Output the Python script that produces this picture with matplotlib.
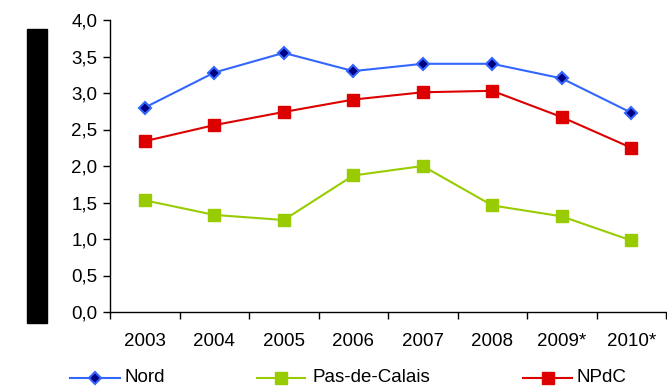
import matplotlib
matplotlib.use("Agg")
import matplotlib.pyplot as plt
from matplotlib.patches import Rectangle
from matplotlib.lines import Line2D
from matplotlib.ticker import FixedLocator, NullFormatter

plt.rcParams['font.family'] = ['Liberation Sans', 'DejaVu Sans']

years = ["2003", "2004", "2005", "2006", "2007", "2008", "2009*", "2010*"]
nord = [2.80, 3.28, 3.55, 3.30, 3.40, 3.40, 3.20, 2.73]
pas_de_calais = [1.53, 1.33, 1.26, 1.87, 2.00, 1.46, 1.31, 0.98]
npdc = [2.34, 2.56, 2.74, 2.91, 3.01, 3.03, 2.67, 2.25]
y_ticks = [0.0, 0.5, 1.0, 1.5, 2.0, 2.5, 3.0, 3.5, 4.0]

W, H = 667, 388
FS = 13.5
fig = plt.figure(figsize=(W / 100, H / 100), dpi=100)
ax = fig.add_axes([110 / W, 76 / H, 556 / W, 292 / H])

styles = [
    ("Nord", nord, dict(color="#3366FF", marker="D", ms=6.5,
                        mfc="#000080", mec="#3366FF", mew=1.5)),
    ("Pas-de-Calais", pas_de_calais, dict(color="#99CC00", marker="s", ms=8,
                                          mfc="#99CC00", mec="#99CC00")),
    ("NPdC", npdc, dict(color="#DD0000", marker="s", ms=8,
                        mfc="#DD0000", mec="#DD0000")),
]

x = list(range(len(years)))
for name, vals, st in styles:
    ax.plot(x, vals, lw=1.5, label=name, **st)

ax.set_xlim(-0.5, len(years) - 0.5)
ax.set_ylim(0, 4.0)
ax.set_yticks(y_ticks)
ax.set_yticklabels([f"{v:.1f}".replace(".", ",") for v in y_ticks])
ax.set_xticks(x)
ax.set_xticklabels(years)
ax.tick_params(axis="x", which="major", length=0, pad=15, labelsize=FS)
ax.xaxis.set_minor_locator(FixedLocator([i - 0.5 for i in range(len(years) + 1)]))
ax.xaxis.set_minor_formatter(NullFormatter())
ax.tick_params(axis="x", which="minor", length=5, width=1, direction="out")
ax.tick_params(axis="y", length=5, width=1, direction="out", labelsize=FS, pad=4)
for s in ("top", "right"):
    ax.spines[s].set_visible(False)
for s in ("left", "bottom"):
    ax.spines[s].set_color("#000000")
    ax.spines[s].set_linewidth(1)

fig.patches.append(Rectangle((27 / W, 65 / H), 20 / W, 294 / H,
                             transform=fig.transFigure, color="black"))

# legend row below the axis
legend_pos = [(70, 120, 125), (257, 305, 312), (523, 572, 577)]
ly = 1 - 378 / H
for (name, vals, st), (x0, x1, tx) in zip(styles, legend_pos):
    fig.add_artist(Line2D([x0 / W, x1 / W], [ly, ly], lw=1.5,
                          color=st["color"], transform=fig.transFigure))
    fig.add_artist(Line2D([(x0 + x1) / 2 / W], [ly], transform=fig.transFigure,
                          ls="none", **{k: v for k, v in st.items() if k != "color"}))
    fig.text(tx / W, ly, name, fontsize=FS, va="center", ha="left")

fig.savefig("out.png", dpi=100)
